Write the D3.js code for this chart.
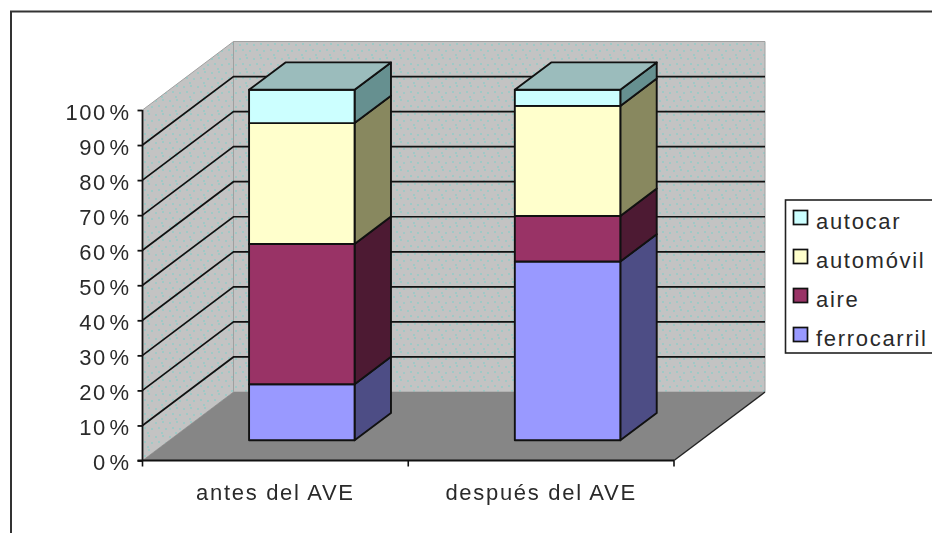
<!DOCTYPE html>
<html><head><meta charset="utf-8">
<script src="https://cdn.jsdelivr.net/npm/d3@7"></script>
<style>
html,body{margin:0;padding:0;background:#fff;overflow:hidden}
svg{filter:blur(0.4px)}
text{font-family:"Liberation Sans",Arial,sans-serif;fill:#2a2a2a;font-size:22px;letter-spacing:1.7px}
.ylab text{letter-spacing:1.5px;word-spacing:-5px}
</style></head><body>
<script>
const categories = ["antes del AVE", "después del AVE"];
const seriesNames = ["ferrocarril", "aire", "automóvil", "autocar"];
const ferrocarril = [16, 51];
const aire = [40, 13];
const automovil = [34.5, 31.4];
const autocar = [9.5, 4.6];
const seriesValues = [ferrocarril, aire, automovil, autocar];
const frontColors = ["#9999ff", "#993366", "#ffffcc", "#ccffff"];
const sideColors = ["#4d4d85", "#4d1a33", "#88885f", "#669090"];
const topColor = "#9bbcbc";
const tickValues = [0,10,20,30,40,50,60,70,80,90,100];

const W = 932, H = 533;
const svg = d3.select("body").append("svg").attr("width", W).attr("height", H).style("display","block");

const defs = svg.append("defs");
const pat = defs.append("pattern").attr("id","wall").attr("patternUnits","userSpaceOnUse").attr("width",14).attr("height",14);
pat.append("rect").attr("width",14).attr("height",14).attr("fill","#c3c3c3");
[[1,2],[8,1],[4,7],[11,8],[7,12]].forEach(p=>pat.append("rect").attr("x",p[0]).attr("y",p[1]).attr("width",2).attr("height",2).attr("fill","#9fc9c6"));

const x = d3.scaleBand().domain(categories).range([142.5, 674]).paddingInner(0).paddingOuter(0);
const y = d3.scaleLinear().domain([0,100]).range([460.5, 110]);
const depth = {dx: d3.scaleLinear().domain([0,1]).range([0,91]), dy: d3.scaleLinear().domain([0,1]).range([0,-68.5])};
const P = (xv, v, d) => [xv + depth.dx(d), y(v) + depth.dy(d)];
const poly = pts => "M" + pts.map(p=>p.join(",")).join("L") + "Z";
const [xa, xb] = x.range();

// frame
svg.append("path").attr("d",`M11,${H}V11.5H${W}`).attr("fill","none").attr("stroke","#333").attr("stroke-width",2);

// walls and floor
svg.append("path").attr("d",poly([P(xa,0,0),P(xa,100,0),P(xa,100,1),P(xa,0,1)])).attr("fill","url(#wall)").attr("stroke","#a0a0a0").attr("stroke-width",1);
svg.append("path").attr("d",poly([P(xa,0,1),P(xa,100,1),P(xb,100,1),P(xb,0,1)])).attr("fill","url(#wall)").attr("stroke","#a0a0a0").attr("stroke-width",1);
svg.append("path").attr("d",poly([P(xa,0,0),P(xa,0,1),P(xb,0,1),P(xb,0,0)])).attr("fill","#868686");
svg.append("path").attr("d",`M${P(xb,0,0)}L${P(xb,0,1)}`).attr("stroke","#222").attr("stroke-width",1.4).attr("fill","none");

// gridlines
tickValues.filter(t=>t>0&&t<100).forEach(t=>{
  svg.append("path").attr("d",`M${P(xa,t,0)}L${P(xa,t,1)}L${P(xb,t,1)}`).attr("fill","none").attr("stroke","#111").attr("stroke-width",1.7);
});

// bars
const bw = x.bandwidth()*0.397, off = x.bandwidth()*0.3, d0 = 0.295, d1 = 0.695;
categories.forEach((c,ci)=>{
  const xl = x(c)+off, xr = xl+bw;
  let base = 0;
  const g = svg.append("g").attr("stroke","#111").attr("stroke-width",1.9).attr("stroke-linejoin","round");
  seriesValues.forEach((vals,si)=>{
    const top = base+vals[ci];
    g.append("path").attr("d",poly([P(xr,base,d0),P(xr,top,d0),P(xr,top,d1),P(xr,base,d1)])).attr("fill",sideColors[si]);
    g.append("path").attr("d",poly([P(xl,base,d0),P(xl,top,d0),P(xr,top,d0),P(xr,base,d0)])).attr("fill",frontColors[si]);
    base = top;
  });
  g.append("path").attr("d",poly([P(xl,base,d0),P(xl,base,d1),P(xr,base,d1),P(xr,base,d0)])).attr("fill",topColor);
});

// y axis
const yAxis = d3.axisLeft(y).tickValues(tickValues).tickSize(5).tickPadding(7).tickFormat(d=>d+" %");
const gy = svg.append("g").attr("class","ylab").attr("transform",`translate(${xa},0)`).call(yAxis);
gy.attr("font-family",null).attr("font-size",null);
gy.selectAll("path,line").attr("stroke","#111").attr("stroke-width",1.8);
gy.selectAll("text").attr("fill",null).attr("dy","0.42em");
gy.select(".domain").attr("d",`M0,${y(0)}V${y(100)}`);

// x axis
const gx = svg.append("g").attr("transform",`translate(0,${y(0)})`).call(d3.axisBottom(x).tickSize(0).tickPadding(24));
gx.attr("font-family",null).attr("font-size",null);
gx.select(".domain").attr("d",`M${xa-5},0H${xb}`).attr("stroke","#111").attr("stroke-width",1.8);
gx.selectAll("text").attr("fill",null).attr("dy","0.71em");
[xa, xa+x.step(), xb].forEach(t=>gx.append("line").attr("x1",t).attr("x2",t).attr("y1",0).attr("y2",6).attr("stroke","#111").attr("stroke-width",1.6));

// legend
const lg = svg.append("g");
lg.append("rect").attr("x",785.5).attr("y",200).attr("width",W).attr("height",153).attr("fill","#fff").attr("stroke","#222").attr("stroke-width",1.6);
const legendY = d3.scalePoint().domain(seriesNames.slice().reverse()).range([217.5,334.5]);
seriesNames.forEach((s,i)=>{
  const yy = legendY(s);
  lg.append("rect").attr("x",793.5).attr("y",yy-7).attr("width",14).attr("height",14).attr("fill",frontColors[i]).attr("stroke","#111").attr("stroke-width",1.7);
  lg.append("text").attr("x",816).attr("y",yy+11).text(s);
});
</script></body></html>
